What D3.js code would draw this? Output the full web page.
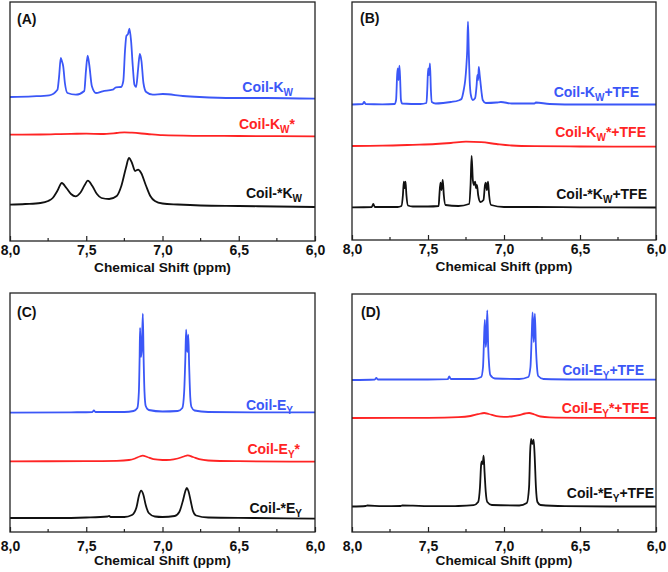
<!DOCTYPE html>
<html><head><meta charset="utf-8">
<script src="https://cdn.jsdelivr.net/npm/d3@7"></script>
<style>body{margin:0;background:#fff}svg{display:block}text{font-family:"Liberation Sans",Arial,sans-serif;font-weight:bold}</style>
</head><body><svg id="c" width="668" height="572"></svg>
<script>
// ---------- data: [chemical shift (ppm), intensity (a.u., stacked)] ----------
const xTicks = [8.0, 7.5, 7.0, 6.5, 6.0];
const xMinorTicks = [7.75, 7.25, 6.75, 6.25];
const xTitle = "Chemical Shift (ppm)";
const panelTags = ["(A)", "(B)", "(C)", "(D)"];

const A_blue = [[8.0,144],[7.853,144.7],[7.743,145.7],[7.689,151.3],[7.678,164.7],[7.667,183],[7.66,180],[7.651,174.7],[7.64,158],[7.623,148],[7.568,146.3],[7.513,150],[7.502,170],[7.491,185.3],[7.48,176],[7.463,154.7],[7.436,148],[7.393,149.7],[7.327,151.3],[7.305,153.7],[7.272,154],[7.257,160],[7.246,190],[7.237,205],[7.226,207],[7.217,212.3],[7.206,200],[7.195,175],[7.184,156.3],[7.173,154],[7.16,172],[7.149,187],[7.138,180],[7.125,158],[7.107,149],[7.064,146.3],[6.998,147],[6.866,145],[6.757,144],[6.537,143],[6.318,143],[6.0,142.3]];
const A_red = [[8.0,106.3],[7.8,106.5],[7.6,107.2],[7.5,107.3],[7.4,107],[7.3,108],[7.25,108.7],[7.2,108.3],[7.1,107],[7.0,105.8],[6.8,105.2],[6.5,105],[6.0,104.7]];
const A_black = [[8.0,36.3],[7.9,37],[7.8,38],[7.75,40],[7.72,43],[7.69,50],[7.66,58],[7.63,53],[7.6,47],[7.57,44.7],[7.54,48],[7.51,56],[7.49,60.3],[7.46,55],[7.43,47],[7.4,43],[7.35,42],[7.3,45],[7.27,55],[7.24,73],[7.22,83],[7.2,78],[7.18,70],[7.16,71.3],[7.14,68],[7.11,56],[7.08,45],[7.05,40],[7.0,37.5],[6.9,36.5],[6.75,35.5],[6.5,35],[6.25,34.5],[6.0,34]];

const B_blue = [[8.0,135.5],[7.93,136],[7.92,138],[7.91,136],[7.8,135.7],[7.72,136],[7.71,140],[7.703,165],[7.699,171.7],[7.694,160],[7.688,174.3],[7.683,160],[7.678,140],[7.67,136.5],[7.55,136],[7.51,137],[7.505,150],[7.499,171.7],[7.493,165],[7.487,176.7],[7.481,150],[7.475,138],[7.45,136.5],[7.4,137],[7.35,138],[7.3,139.5],[7.28,141],[7.265,150],[7.255,160],[7.248,173],[7.242,190],[7.237,218.3],[7.232,190],[7.226,160],[7.218,145],[7.205,140],[7.19,142],[7.18,155],[7.175,165],[7.17,160],[7.166,173],[7.16,165],[7.155,158],[7.148,148],[7.14,140],[7.12,137],[7.05,137.5],[7.02,138],[6.95,136.5],[6.8,136.5],[6.79,137.5],[6.7,136],[6.5,135.5],[6.2,135.5],[6.0,135.5]];
const B_red = [[8.0,94],[7.8,94.3],[7.6,95.2],[7.45,96],[7.35,97],[7.25,98.3],[7.15,97.8],[7.05,96],[6.95,94.5],[6.8,93.8],[6.5,93.5],[6.0,93.3]];
const B_black = [[8.0,32.7],[7.87,33],[7.86,36],[7.85,33],[7.7,33],[7.675,34],[7.665,45],[7.659,58.3],[7.654,52],[7.648,58.3],[7.642,45],[7.632,34.5],[7.6,33.5],[7.5,33.5],[7.43,34],[7.425,45],[7.418,57.3],[7.411,50],[7.403,60],[7.396,45],[7.385,35],[7.3,34],[7.23,36],[7.22,55],[7.213,84],[7.205,60],[7.198,55],[7.19,58.3],[7.184,52],[7.178,55],[7.17,45],[7.155,38],[7.135,40],[7.125,55],[7.12,57.3],[7.113,50],[7.105,58.3],[7.098,45],[7.085,35],[7.0,33],[6.8,33],[6.5,32.7],[6.0,32.5]];

const C_blue = [[8.0,119.3],[7.6,119.7],[7.46,120],[7.45,121.5],[7.44,120],[7.25,120],[7.19,121],[7.165,124],[7.155,140],[7.15,175],[7.147,204],[7.141,175],[7.135,185],[7.129,218.3],[7.124,175],[7.118,140],[7.11,126],[7.09,122],[7.0,120.5],[6.9,121],[6.87,124],[6.858,140],[6.85,175],[6.845,202.3],[6.838,180],[6.831,197.3],[6.825,165],[6.818,135],[6.81,125],[6.79,121.5],[6.7,120],[6.4,119.7],[6.0,119.7]];
const C_red = [[8.0,70.7],[7.5,70.8],[7.3,71.2],[7.22,72],[7.18,73.5],[7.15,75.5],[7.13,76.3],[7.1,75],[7.06,72.8],[7.0,72],[6.95,72.2],[6.9,73.5],[6.86,75.5],[6.835,76.7],[6.8,75],[6.76,72.8],[6.7,71.5],[6.5,70.8],[6.0,70.3]];
const C_black = [[8.0,14],[7.7,14],[7.5,14.5],[7.36,15.5],[7.35,16],[7.34,15],[7.25,15],[7.2,17],[7.17,25],[7.155,36],[7.14,41.3],[7.125,37],[7.11,27],[7.09,19],[7.05,15.5],[7.0,15],[6.92,16],[6.89,20],[6.865,32],[6.85,41],[6.84,44],[6.83,41],[6.815,31],[6.8,21],[6.78,16.5],[6.7,14.5],[6.4,14],[6.0,13.3]];

const D_blue = [[8.0,152],[7.85,152.5],[7.84,154],[7.83,152.5],[7.5,152.5],[7.37,152.8],[7.36,155.5],[7.35,153],[7.2,153],[7.15,155],[7.138,165],[7.132,190],[7.126,212.3],[7.12,185],[7.115,195],[7.11,221.7],[7.104,185],[7.097,165],[7.09,157],[7.06,153.5],[6.9,153],[6.84,155],[6.826,165],[6.818,195],[6.812,219.7],[6.804,190],[6.797,218.3],[6.79,185],[6.783,165],[6.775,156],[6.74,153],[6.5,152.5],[6.0,152.3]];
const D_red = [[8.0,114],[7.5,114.2],[7.3,114.8],[7.22,116],[7.17,117.8],[7.13,119],[7.1,118],[7.05,115.8],[7.0,115.2],[6.95,115.5],[6.9,116.8],[6.86,118.5],[6.835,119],[6.8,117.5],[6.76,115.5],[6.7,114.6],[6.5,114.2],[6.0,114]];
const D_black = [[8.0,25.5],[7.91,26],[7.9,26.5],[7.8,25.8],[7.68,26],[7.67,26.5],[7.6,26.3],[7.5,25.8],[7.3,26],[7.2,26.8],[7.17,30],[7.158,45],[7.15,68],[7.145,70.7],[7.14,68],[7.134,76.3],[7.128,60],[7.12,40],[7.11,30],[7.08,27],[6.9,26.5],[6.85,29],[6.835,45],[6.828,80],[6.822,93],[6.814,88],[6.805,92.3],[6.798,75],[6.79,45],[6.78,30],[6.76,27],[6.6,25.8],[6.3,25.5],[6.0,25.5]];

// label text: [main, subscript, suffix]
const A_labels = [["Coil-K","W",""],["Coil-K","W","*"],["Coil-*K","W",""]];
const B_labels = [["Coil-K","W","+TFE"],["Coil-K","W","*+TFE"],["Coil-*K","W","+TFE"]];
const C_labels = [["Coil-E","Y",""],["Coil-E","Y","*"],["Coil-*E","Y",""]];
const D_labels = [["Coil-E","Y","+TFE"],["Coil-E","Y","*+TFE"],["Coil-*E","Y","+TFE"]];

// ---------- layout / style ----------
const colors = ["#3b57f7", "#ff2424", "#111111"];
const panels = [
  {x:10, y:2, w:305, h:239, series:[A_blue,A_red,A_black], labels:A_labels, lpos:[[283,90],[285,127],[292,196]], tag:[7,21.5], pad:4, ty:31},
  {x:352, y:2, w:304, h:238, series:[B_blue,B_red,B_black], labels:B_labels, lpos:[[287,95],[294,135],[295,197]], tag:[8,21], pad:4, ty:31},
  {x:10, y:293, w:305, h:239, series:[C_blue,C_red,C_black], labels:C_labels, lpos:[[283,117],[290,161],[292,220]], tag:[7,23.5], pad:9, ty:33},
  {x:352, y:294, w:304, h:238, series:[D_blue,D_red,D_black], labels:D_labels, lpos:[[292,81],[297,119],[302,204]], tag:[9,23], pad:9, ty:33}
];

const svg = d3.select("#c");
const fmt = d => d3.format(".1f")(d).replace(".", ",");

panels.forEach((p, i) => {
  const g = svg.append("g").attr("transform", `translate(${p.x},${p.y})`);
  const x = d3.scaleLinear().domain([8, 6]).range([0, p.w]);
  const y = d3.scaleLinear().domain([0, p.h]).range([p.h, 0]);

  const line = d3.line().x(d => x(d[0])).y(d => y(d[1])).curve(d3.curveMonotoneX);
  p.series.forEach((s, k) => {
    g.append("path").datum(s).attr("d", line)
      .attr("fill", "none").attr("stroke", colors[k])
      .attr("stroke-width", 1.8).attr("stroke-linejoin", "round");
  });

  // frame
  g.append("rect").attr("width", p.w).attr("height", p.h)
    .attr("fill", "none").attr("stroke", "#222").attr("stroke-width", 1.3);

  // bottom axis: inward ticks
  const ax = g.append("g").attr("transform", `translate(0,${p.h})`)
    .call(d3.axisBottom(x).tickValues(xTicks).tickFormat(fmt).tickSizeInner(-5).tickSizeOuter(0).tickPadding(p.pad));
  ax.select(".domain").remove();
  ax.selectAll(".tick line").attr("stroke", "#222").attr("stroke-width", 1.2);
  ax.selectAll(".tick text").attr("font-size", 14).attr("fill", "#111")
    .attr("font-family", '"Liberation Sans",Arial,sans-serif').attr("font-weight", "bold");
  ax.selectAll(".minor").data(xMinorTicks).join("line").attr("class", "minor")
    .attr("x1", d => x(d)).attr("x2", d => x(d)).attr("y1", 0).attr("y2", -3)
    .attr("stroke", "#222").attr("stroke-width", 1.2);

  g.append("text").attr("x", p.w / 2).attr("y", p.h + p.ty).attr("text-anchor", "middle")
    .attr("font-size", 13.7).attr("fill", "#111").text(xTitle);

  g.append("text").attr("x", p.tag[0]).attr("y", p.tag[1]).attr("font-size", 14)
    .attr("fill", "#111").text(panelTags[i]);

  p.labels.forEach((lb, k) => {
    const t = g.append("text").attr("x", p.lpos[k][0]).attr("y", p.lpos[k][1])
      .attr("text-anchor", "end").attr("font-size", 14).attr("fill", colors[k]);
    t.append("tspan").text(lb[0]);
    t.append("tspan").attr("font-size", 10).attr("dy", 4).text(lb[1]);
    if (lb[2]) t.append("tspan").attr("dy", -4).text(lb[2]);
  });
});
</script></body></html>
